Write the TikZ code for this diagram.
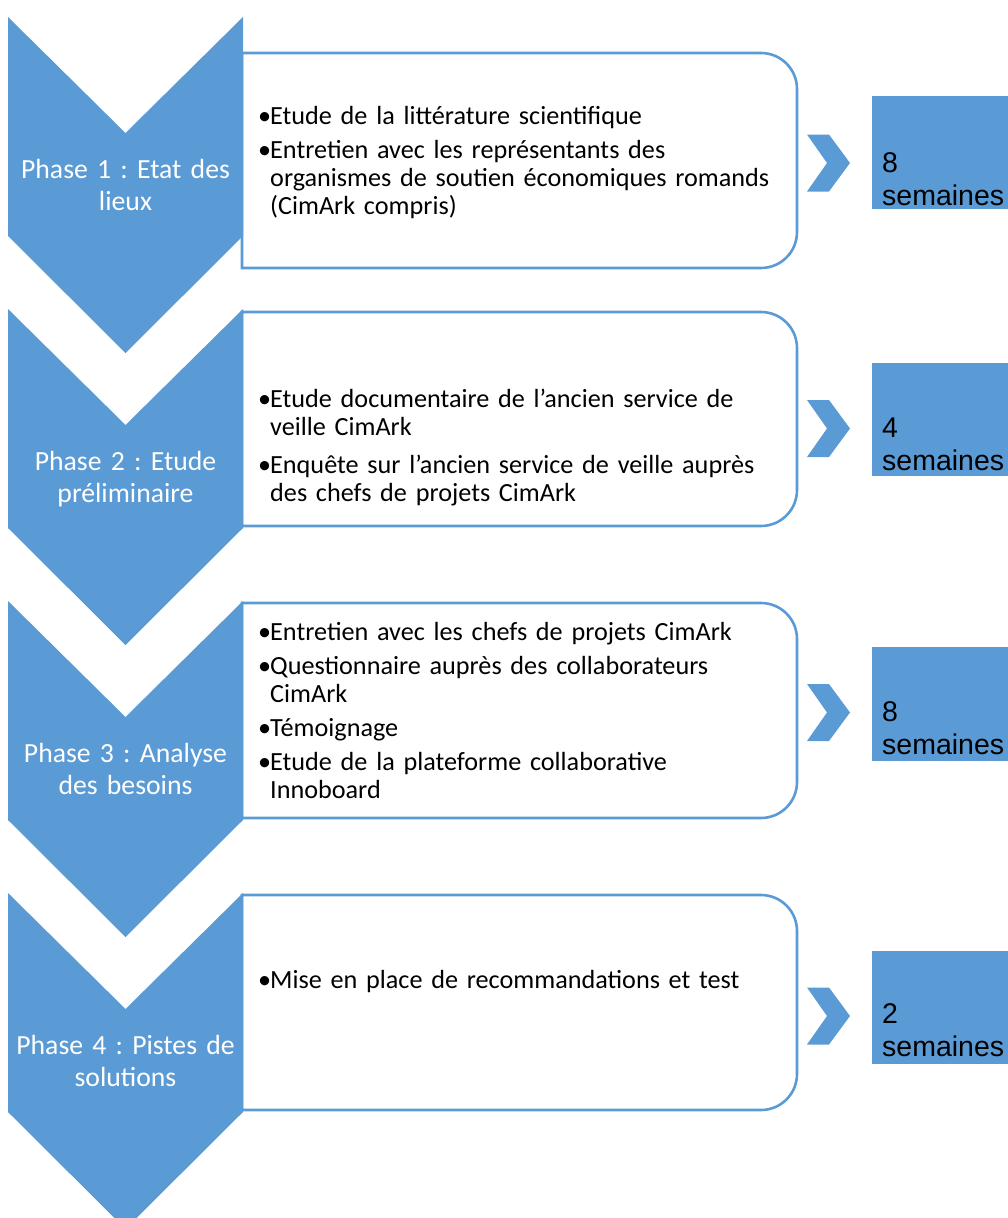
\documentclass[tikz,border=0pt]{standalone}
\usepackage{fontspec}
\setmainfont{Carlito}
\newfontfamily\arialf{Liberation Sans}
\definecolor{accblue}{HTML}{5B9BD5}
\frenchspacing
\newcommand\bul[1]{\par\hangindent=12pt\hangafter=1\noindent\makebox[12pt][l]{\textbullet}#1\par}
\tikzset{
  chevfill/.style={fill=accblue, draw=none},
  boxline/.style={draw=accblue, line width=2.6pt, fill=white},
  phasetext/.style={text=white, font=\frenchspacing\fontsize{27.7}{32}\selectfont, text width=234pt, align=center, anchor=base, inner sep=0pt},
  itemtext/.style={text=black, font=\frenchspacing\fontsize{26.2}{28}\selectfont, text width=545pt, anchor=base west, inner sep=0pt, execute at begin node={\raggedright\setlength\parskip{6pt}}},
  durbox/.style={fill=accblue, draw=none},
  durtext/.style={text=black, font=\arialf\fontsize{28.5}{33}\selectfont, text width=140pt, align=left, anchor=base west, inner sep=0pt},
}
\begin{document}
\begin{tikzpicture}[x=1pt,y=-1pt]
\useasboundingbox (0,0) rectangle (1008,1218);
\clip (0,0) rectangle (1008,1218);

% main boxes (top/bottom)
\foreach \T/\B in {53/268, 312/526, 603/818, 895/1110}{
  \draw[boxline] (242,\T) -- (761,\T) .. controls (780.9,\T) and (797,\T+16.1) .. (797,\T+36)
    -- (797,\B-36) .. controls (797,\B-16.1) and (780.9,\B) .. (761,\B) -- (242,\B) -- cycle;
}

% big phase chevrons
\foreach \T in {17, 309, 601, 893}{
  \fill[chevfill] (8,\T) -- (125.5,\T+116) -- (243,\T) -- (243,\T+219) -- (125.5,\T+336) -- (8,\T+219) -- cycle;
}

% small arrows
\foreach \C in {163, 428.5, 712.5, 1016}{
  \fill[chevfill] (807,\C-28.5) -- (829,\C-28.5) -- (850,\C) -- (829,\C+28.5) -- (807,\C+28.5) -- (827,\C) -- cycle;
}

% duration boxes
\fill[durbox] (872,96) rectangle (1008,209);
\fill[durbox] (872,363) rectangle (1008,476);
\fill[durbox] (872,647) rectangle (1008,761);
\fill[durbox] (872,951) rectangle (1008,1064);

\node[durtext] (d1) at (882,172) {8\\semaines};
\node[durtext] (d2) at (882,437) {4\\semaines};
\node[durtext] (d3) at (882,721) {8\\semaines};
\node[durtext] (d4) at (882,1023) {2\\semaines};

% phase labels
\node[phasetext] (p1) at (125.5,178) {Phase 1 : Etat des\\lieux};
\node[phasetext] (p2) at (125.5,470) {Phase 2 : Etude\\préliminaire};
\node[phasetext] (p3) at (125.5,762) {Phase 3 : Analyse\\des besoins};
\node[phasetext] (p4) at (125.5,1054) {Phase 4 : Pistes de\\solutions};

% box texts
\node[itemtext] (t1) at (258,90) {%
\bul{Etude de la littérature scientifique}
\bul{Entretien avec les représentants des\newline organismes de soutien économiques romands\newline (CimArk compris)}};
\node[itemtext] (t2) at (258,369) {\setlength\parskip{10pt}%
\bul{Etude documentaire de l'ancien service de\newline veille CimArk}
\bul{Enquête sur l'ancien service de veille auprès\newline des chefs de projets CimArk}};
\node[itemtext] (t3) at (258,606) {%
\bul{Entretien avec les chefs de projets CimArk}
\bul{Questionnaire auprès des collaborateurs\newline CimArk}
\bul{Témoignage}
\bul{Etude de la plateforme collaborative\newline Innoboard}};
\node[itemtext] (t4) at (258,954) {%
\bul{Mise en place de recommandations et test}};
\end{tikzpicture}
\end{document}
